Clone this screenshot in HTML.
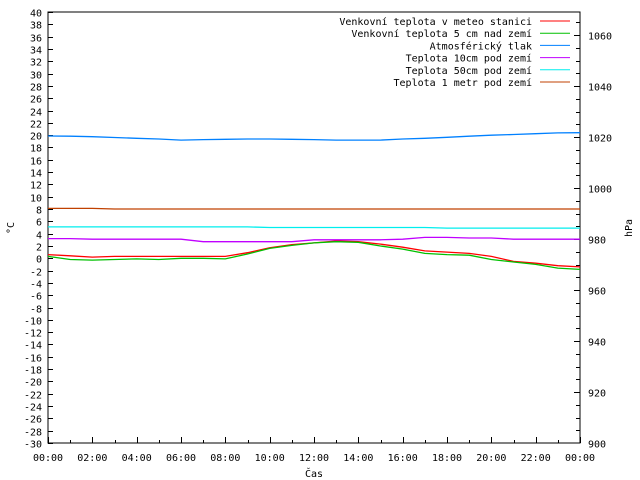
<!DOCTYPE html>
<html><head><meta charset="utf-8"><style>
body{margin:0;background:#fff}
svg{display:block;font-family:"DejaVu Sans Mono","Liberation Mono",monospace;font-size:10px}
</style></head><body>
<svg id="chart" width="640" height="480" xmlns="http://www.w3.org/2000/svg">
<rect width="640" height="480" fill="#fff"/>
<g id="axes"></g>
<g id="series"></g>
<g id="legend"></g>
<text x="14" y="228" transform="rotate(-90 14 228)" text-anchor="middle">°C</text>
<text x="632" y="228" transform="rotate(-90 632 228)" text-anchor="middle">hPa</text>
<text x="314" y="477" text-anchor="middle">Čas</text>
</svg>
<script>
const hours=[0,1,2,3,4,5,6,7,8,9,10,11,12,13,14,15,16,17,18,19,20,21,22,23,24];
const xTickLabels=["00:00","02:00","04:00","06:00","08:00","10:00","12:00","14:00","16:00","18:00","20:00","22:00","00:00"];
const airTemp=[0.6,0.4,0.2,0.3,0.3,0.3,0.3,0.3,0.3,0.9,1.7,2.2,2.5,2.8,2.7,2.3,1.8,1.2,1.0,0.8,0.3,-0.5,-0.8,-1.2,-1.4];
const groundTemp5cm=[0.3,-0.2,-0.3,-0.2,-0.1,-0.2,0.0,0.0,-0.1,0.7,1.6,2.1,2.5,2.7,2.6,2.0,1.5,0.8,0.6,0.5,-0.2,-0.6,-1.0,-1.6,-1.8];
const pressure=[1020.4,1020.3,1020.1,1019.8,1019.5,1019.2,1018.8,1019.0,1019.1,1019.2,1019.2,1019.1,1019.0,1018.8,1018.8,1018.8,1019.2,1019.5,1019.9,1020.3,1020.7,1021.0,1021.3,1021.6,1021.7];
const soil10cm=[3.2,3.2,3.1,3.1,3.1,3.1,3.1,2.7,2.7,2.7,2.7,2.7,3.0,3.0,3.0,3.0,3.1,3.4,3.4,3.3,3.3,3.1,3.1,3.1,3.1];
const soil50cm=[5.1,5.1,5.1,5.1,5.1,5.1,5.1,5.1,5.1,5.1,5.0,5.0,5.0,5.0,5.0,5.0,5.0,5.0,4.9,4.9,4.9,4.9,4.9,4.9,4.9];
const soil1m=[8.1,8.1,8.1,8.0,8.0,8.0,8.0,8.0,8.0,8.0,8.0,8.0,8.0,8.0,8.0,8.0,8.0,8.0,8.0,8.0,8.0,8.0,8.0,8.0,8.0];
const legendLabels=["Venkovní teplota v meteo stanici","Venkovní teplota 5 cm nad zemí","Atmosférický tlak","Teplota 10cm pod zemí","Teplota 50cm pod zemí","Teplota 1 metr pod zemí"];
const colors=["#ff0000","#00c000","#0080ff","#c000ff","#00eeee","#c04000"];

const L=48,R=580,T=12,B=443;
const x=h=>L+(R-L)*h/24;
const yL=v=>B-(B-T)*(v+30)/70;
const yR=p=>B-(p-900)*2.55;
const NS="http://www.w3.org/2000/svg";
function mk(tag,attrs,parent){const e=document.createElementNS(NS,tag);for(const k in attrs)e.setAttribute(k,attrs[k]);parent.appendChild(e);return e;}
const ax=document.getElementById('axes');
const frame=mk('rect',{x:L,y:T,width:R-L,height:B-T,fill:'none',stroke:'#000','stroke-width':1},ax);


for(let v=-30;v<=40;v+=2){
  const y=Math.round(yL(v))+0.5;
  const t=mk('line',{x1:L,x2:L+5,y1:y,y2:y,stroke:'#000'},ax);
  
  
  const lb=mk('text',{x:42,y:y+4,'text-anchor':'end'},ax);lb.textContent=v;
  
  
}
for(let p=905;p<=1065;p+=5){
  const y=Math.round(yR(p))+0.5;
  const major=p%20===0;
  const t=mk('line',{x1:R-(major?6:4),x2:R,y1:y,y2:y,stroke:'#000'},ax);
  
  
}
for(let p=900;p<=1060;p+=20){
  const y=Math.round(yR(p))+0.5;
  const lb=mk('text',{x:588,y:y+4},ax);lb.textContent=p;
  
  
}
for(let h=0;h<=24;h++){
  const xx=Math.round(x(h))+0.5;
  const len=h%2===0?6:3;
  const t=mk('line',{x1:xx,x2:xx,y1:B,y2:B-len,stroke:'#000'},ax);
  
  
}
xTickLabels.forEach((s,i)=>{
  const lb=mk('text',{x:x(i*2),y:461,'text-anchor':'middle'},ax);lb.textContent=s;
  
  
});
const sg=document.getElementById('series');
const series=[[airTemp,yL,'air-temp-line'],[groundTemp5cm,yL,'ground-5cm-line'],[pressure,yR,'pressure-line'],[soil10cm,yL,'soil-10cm-line'],[soil50cm,yL,'soil-50cm-line'],[soil1m,yL,'soil-1m-line']];
series.forEach(([d,fy,n],i)=>{
  const pts=d.map((v,j)=>x(hours[j]).toFixed(1)+','+fy(v).toFixed(1)).join(' ');
  const pl=mk('polyline',{points:pts,fill:'none',stroke:colors[i],'stroke-width':1.3},sg);
  
  
});
const lg=document.getElementById('legend');
legendLabels.forEach((s,i)=>{
  const y=21+i*12.2;
  const tx=mk('text',{x:532,y:y+4,'text-anchor':'end'},lg);tx.textContent=s;
  
  
  const ln=mk('line',{x1:540,x2:570,y1:y,y2:y,stroke:colors[i],'stroke-width':1},lg);
  
  
});
</script>
</body></html>
